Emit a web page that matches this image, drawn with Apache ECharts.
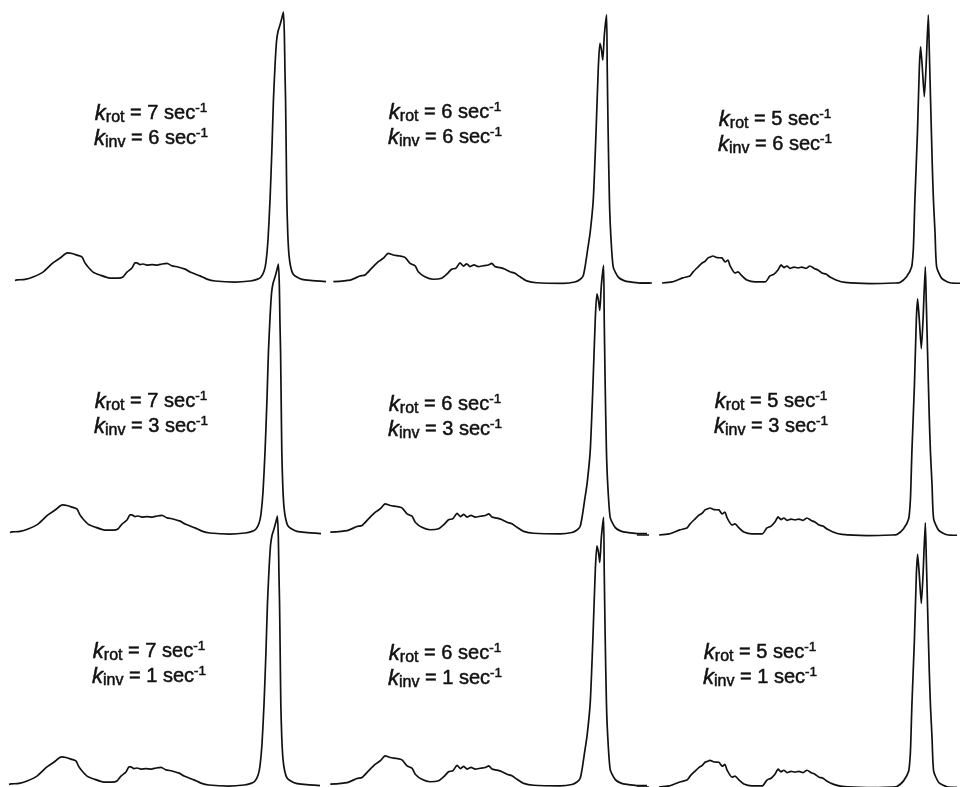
<!DOCTYPE html>
<html>
<head>
<meta charset="utf-8">
<title>Simulated spectra</title>
<script src="https://cdn.jsdelivr.net/npm/echarts@6/dist/echarts.min.js"></script>
<style>
  html, body { margin: 0; padding: 0; background: #fff; }
  #chart { width: 961px; height: 787px; }
</style>
</head>
<body>
<div id="chart"></div>
<script>
// rate constants: columns vary k_rot, rows vary k_inv
const kRot = [7, 6, 5];
const kInv = [6, 3, 1];

// broad multiplet region of each column, [frequency, intensity]
const humpsCol1 = [
  [0, 0.2], [0.6, 0.4], [3.2, 0.6], [5.8, 1.5], [9.0, 3.3], [12.2, 6.7], [14.5, 8.5],
  [16.1, 10.0], [17.0, 10.4], [18.3, 10.2], [19.9, 9.6], [21.5, 8.9], [22.5, 6.7],
  [23.5, 5.2], [25.1, 3.3], [27.3, 2.2], [30.5, 1.1], [33.1, 1.1], [34.7, 1.5],
  [36.0, 3.3], [37.6, 4.8], [38.6, 6.7], [39.2, 6.7], [40.2, 6.1], [41.2, 6.3],
  [42.4, 5.9], [44.1, 6.1], [45.7, 5.9], [47.3, 6.3], [48.9, 6.5], [50.5, 5.6],
  [52.4, 5.2], [54.7, 4.4], [56.3, 3.3], [57.9, 2.6], [59.5, 1.9], [61.7, 0.7],
  [64.3, 0], [70.7, -0.4]
];
const humpsCol2 = [
  [0.1, 0.3], [5.4, 0.9], [8.5, 2.4], [10.1, 2.8], [12.2, 5.3], [14.3, 7.7], [15.9, 9.0],
  [17.4, 10.8], [19.0, 10.2], [21.1, 9.8], [22.7, 9.3], [24.3, 7.1], [25.9, 6.2],
  [26.9, 4.0], [29.0, 2.1], [31.6, 1.2], [34.3, 1.6], [35.9, 3.1], [37.4, 4.9],
  [38.8, 5.3], [40.1, 7.3], [41.1, 6.1], [42.2, 6.9], [43.2, 5.9], [44.5, 6.5],
  [45.8, 5.9], [47.4, 6.2], [49.0, 6.5], [50.1, 7.1], [51.1, 5.9], [52.7, 5.5],
  [54.3, 4.9], [55.8, 4.0], [57.4, 3.4], [59.0, 2.1], [61.1, 0.6], [64.3, -0.1],
  [72.6, -0.3], [76.3, 0.2]
];
const humpsCol3 = [
  [0, 0], [3.75, 0], [5, '-'], [6.9, 0], [10.0, 0.4], [13.4, 1.9], [15.6, 2.6],
  [16.6, 4.1], [18.1, 5.9], [19.4, 7.4], [20.3, 8.0], [21.25, 9.3], [21.9, 9.6],
  [22.8, 10.0], [24.1, 9.4], [25.6, 9.3], [26.6, 7.8], [27.5, 8.5], [28.1, 6.5],
  [29.7, 3.7], [30.6, 4.1], [31.9, 2.6], [33.4, 1.1], [35.9, 0.4], [39.1, 0.4],
  [40.6, 2.6], [41.9, 3.3], [43.1, 4.8], [44.1, 6.7], [45.0, 5.7], [45.9, 6.3],
  [46.9, 5.4], [48.1, 5.9], [49.4, 5.6], [50.6, 5.9], [51.9, 5.4], [53.1, 6.3],
  [54.4, 5.4], [55.6, 4.8], [56.9, 3.7], [58.1, 3.3], [59.4, 2.2], [61.25, 1.1],
  [64.1, 0.2], [71.9, -0.2], [79.7, 0]
];

// sharp line of each column (shoulder / doublet)
const peakCol1 = [
  [75.6, 0], [77.8, 0.6], [79.1, 1.5], [80.1, 3.7], [80.7, 7.0], [81.35, 15.2],
  [82.0, 30.0], [82.6, 48.5], [83.1, 67.0], [83.6, 79.6], [84.1, 88.9], [84.6, 92.6],
  [85.2, 94.8], [85.9, 97.8], [86.3, 99.6], [86.6, 91.9], [86.8, 78.1], [87.0, 67.0],
  [87.2, 48.5], [87.4, 30.0], [87.7, 17.8], [88.1, 9.6], [88.65, 5.2], [89.4, 2.6],
  [90.6, 1.5], [92.3, 0.6], [94.9, 0.2], [100, -0.2]
];
const peakCol2 = [
  [77.9, 1.1], [78.9, 2.4], [79.5, 5.7], [80.3, 12], [81.1, 18.3], [82.1, 30.6],
  [82.97, 55.4], [83.7, 79.8], [84.2, 88.6], [84.7, 86.1], [85.1, 82.4], [85.6, 91.7],
  [86.3, 99.1], [86.5, 79.8], [86.8, 55.4], [87.2, 30.6], [87.6, 18.3], [88.4, 5.7],
  [90.0, 2.0], [91.8, 0.7], [93.7, 0.2], [96.8, -0.2], [100, -0.2]
];
const peakCol3 = [
  [81.25, 0.2], [83.3, 2.3], [84.9, 6.0], [85.4, 12.2], [85.6, 18.5], [85.9, 30.7],
  [86.7, 55.6], [87.3, 80], [87.7, 87.5], [88.2, 80.1], [88.85, 69.0], [89.4, 80.1],
  [90.1, 99.3], [90.4, 86.3], [90.8, 67.8], [91.35, 43.1], [91.7, 30.7], [92.2, 18.5],
  [92.7, 6.0], [94.3, 1.7], [96.9, 0.1], [100, -0.1]
];

const traces = [humpsCol1.concat(peakCol1), humpsCol2.concat(peakCol2), humpsCol3.concat(peakCol3)];

// panel layout (pixels)
const colLeft = [15, 333, 640];
const colWidth = [311, 317, 320];
const rowShift = [[0, 0, 0], [-5, -3, -3], [-6, -3, -3]];
const baseline = [[281, 282.5, 283], [533, 533, 535], [785, 785, 791]];
const fullScale = 270;
// label centre x and top y for each panel
const labelPos = [
  [[151, 101], [445, 100], [775, 107]],
  [[151, 389], [445, 392], [771, 389]],
  [[149, 639], [445, 641], [760, 640]]
];

const font = 'Liberation Sans';
const ink = '#111';
const thick = { textBorderColor: ink, textBorderWidth: 0.5 };
const rich = {
  i: Object.assign({ fontFamily: font, fontStyle: 'italic', fontSize: 22, color: ink, lineHeight: 25 }, thick),
  sub: Object.assign({ fontFamily: font, fontSize: 16, color: ink, lineHeight: 16, verticalAlign: 'bottom' }, thick),
  sup: Object.assign({ fontFamily: font, fontSize: 13.5, color: ink, lineHeight: 13, verticalAlign: 'top' }, thick)
};

const grids = [], xAxes = [], yAxes = [], series = [], titles = [];
for (let r = 0; r < 3; r++) {
  for (let c = 0; c < 3; c++) {
    const idx = grids.length;
    grids.push({
      left: colLeft[c] + rowShift[r][c],
      width: colWidth[c],
      top: baseline[r][c] - fullScale,
      height: fullScale
    });
    xAxes.push({ type: 'value', gridIndex: idx, min: 0, max: 100, show: false });
    yAxes.push({ type: 'value', gridIndex: idx, min: 0, max: 100, show: false });
    series.push({
      type: 'line',
      xAxisIndex: idx,
      yAxisIndex: idx,
      data: traces[c],
      symbol: 'none',
      smooth: 0.2,
      clip: false,
      connectNulls: false,
      lineStyle: { color: ink, width: 1.7 }
    });
    titles.push({
      text: '{i|k}{sub|rot} = ' + kRot[c] + ' sec{sup|-1}\n{i|k}{sub|inv} = ' + kInv[r] + ' sec{sup|-1}',
      left: labelPos[r][c][0],
      top: labelPos[r][c][1],
      textAlign: 'center',
      padding: 0,
      textStyle: Object.assign({
        fontFamily: font, fontSize: 20, fontWeight: 'normal', color: ink,
        lineHeight: 25, rich: rich
      }, thick)
    });
  }
}

const chart = echarts.init(document.getElementById('chart'));
chart.setOption({
  animation: false,
  backgroundColor: '#fff',
  title: titles,
  grid: grids,
  xAxis: xAxes,
  yAxis: yAxes,
  series: series
});
</script>
</body>
</html>
